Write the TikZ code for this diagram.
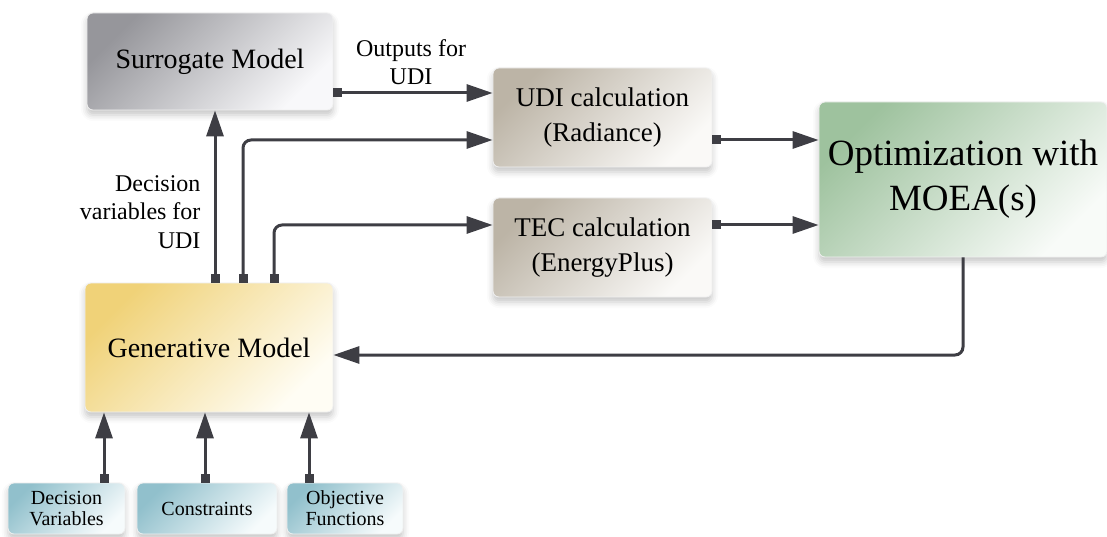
\documentclass[tikz,border=0pt]{standalone}
\usepackage{fontspec}
\setmainfont{Liberation Serif}
\usetikzlibrary{arrows.meta,shadows.blur}
\definecolor{surdark}{RGB}{150,150,155}
\definecolor{surlight}{RGB}{248,248,250}
\definecolor{calcdark}{RGB}{188,180,166}
\definecolor{calclight}{RGB}{250,249,247}
\definecolor{optdark}{RGB}{158,194,158}
\definecolor{optlight}{RGB}{248,251,248}
\definecolor{gendark}{RGB}{240,210,120}
\definecolor{genlight}{RGB}{255,253,244}
\definecolor{indark}{RGB}{145,192,204}
\definecolor{inlight}{RGB}{246,251,252}
\definecolor{arrgrey}{RGB}{62,62,68}
\tikzset{
  blk/.style={rounded corners=6pt, draw=white!88!gray, line width=0.8pt, align=center, inner sep=0pt,
              blur shadow={shadow xshift=0pt, shadow yshift=-5pt, shadow blur radius=6pt, shadow opacity=22}},
  grad/.style 2 args={top color=#1, bottom color=#2, shading angle=45},
  surbox/.style={blk, grad={surdark}{surlight}, minimum width=246pt, minimum height=97pt,
                 font=\fontsize{28}{34}\selectfont},
  calcbox/.style={blk, grad={calcdark}{calclight}, minimum width=219pt, minimum height=99pt,
                  font=\fontsize{27}{35}\selectfont},
  optbox/.style={blk, grad={optdark}{optlight}, minimum width=288pt, minimum height=155pt,
                 font=\fontsize{37}{45}\selectfont},
  genbox/.style={blk, grad={gendark}{genlight}, minimum width=248pt, minimum height=129pt,
                 font=\fontsize{28}{34}\selectfont},
  inbox/.style={blk, grad={indark}{inlight}, minimum height=51pt,
                font=\fontsize{20}{21}\selectfont},
  arr/.style={-{Triangle[length=26pt,width=17pt]}, line width=3pt, draw=arrgrey},
  sqarr/.style={arr, {Square[length=9pt,width=9pt]}-{Triangle[length=26pt,width=17pt]}},
  lab/.style={font=\fontsize{24}{28.5}\selectfont}
}

\begin{document}
\begin{tikzpicture}[x=1pt, y=-1pt]
  \useasboundingbox (0,0) rectangle (1107,537);
  \node[surbox]  (sur) at (210,61.5)   {Surrogate Model};
  \node[calcbox] (udi) at (602.5,117.5) {UDI calculation\\(Radiance)};
  \node[calcbox] (tec) at (602.5,247.5) {TEC calculation\\(EnergyPlus)};
  \node[optbox]  (opt) at (963,179.5)   {Optimization with\\MOEA(s)};
  \node[genbox]  (gen) at (209,347.5)   {Generative Model};
  \node[inbox, minimum width=117pt] (dv)  at (66.5,508.5) {Decision\\Variables};
  \node[inbox, minimum width=140pt] (con) at (207,508.5)  {Constraints};
  \node[inbox, minimum width=116pt] (obj) at (345,508.5)  {Objective\\Functions};
  \node[lab, align=center] (olab) at (411,62)  {Outputs for\\UDI};
  \node[lab, align=right, anchor=east] (dlab) at (204,212) {Decision\\variables for\\UDI};
  \draw[sqarr] ([yshift=-31.5pt]sur.east) -- ([yshift=-31.5pt]sur.east -| udi.west);
  \draw[sqarr] ([xshift=6pt]gen.north) -- ([xshift=6pt]gen.north |- sur.south);
  \draw[sqarr, rounded corners=8pt] ([xshift=34pt]gen.north) |- ([yshift=-22.5pt]udi.west);
  \draw[sqarr, rounded corners=8pt] ([xshift=65pt]gen.north) |- ([yshift=22.5pt]tec.west);
  \draw[sqarr] ([yshift=-22.5pt]udi.east) -- ([yshift=-22.5pt]udi.east -| opt.west);
  \draw[sqarr] ([yshift=22.5pt]tec.east) -- ([yshift=22.5pt]tec.east -| opt.west);
  \draw[arr, rounded corners=8pt] (opt.south) |- ([yshift=-7.5pt]gen.east);
  \draw[sqarr] ([xshift=37.5pt]dv.north) -- ([xshift=37.5pt]dv.north |- gen.south);
  \draw[sqarr] ([xshift=-2pt]con.north) -- ([xshift=-2pt]con.north |- gen.south);
  \draw[sqarr] ([xshift=-36pt]obj.north) -- ([xshift=-36pt]obj.north |- gen.south);
\end{tikzpicture}
\end{document}
